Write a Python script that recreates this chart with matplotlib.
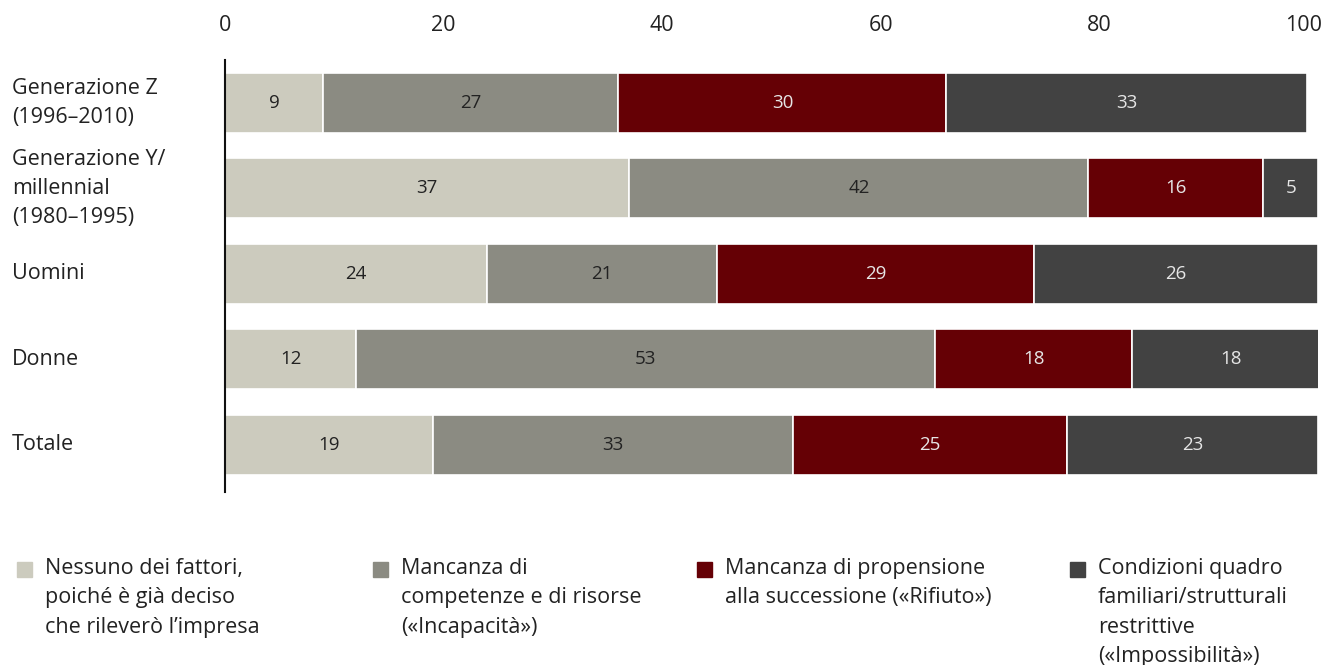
import matplotlib.pyplot as plt
from matplotlib.transforms import blended_transform_factory, ScaledTranslation
from matplotlib.patches import Rectangle

plt.rcParams['font.family'] = ['Open Sans', 'DejaVu Sans']

groups = ['Generazione Z\n(1996–2010)', 'Generazione Y/\nmillennial\n(1980–1995)',
          'Uomini', 'Donne', 'Totale']
nessuno = [9, 37, 24, 12, 19]
incapacita = [27, 42, 21, 53, 33]
rifiuto = [30, 16, 29, 18, 25]
impossibilita = [33, 5, 26, 18, 23]

series = [nessuno, incapacita, rifiuto, impossibilita]
colors = ['#cccbbe', '#8b8b82', '#650005', '#424242']
text_colors = ['#222222', '#222222', '#e6e6e6', '#e6e6e6']
legend_labels = [
    'Nessuno dei fattori,\npoiché è già deciso\nche rileverò l’impresa',
    'Mancanza di\ncompetenze e di risorse\n(«Incapacità»)',
    'Mancanza di propensione\nalla successione («Rifiuto»)',
    'Condizioni quadro\nfamiliari/strutturali\nrestrittive\n(«Impossibilità»)',
]

W, H = 1324, 665
fig = plt.figure(figsize=(W / 100, H / 100), dpi=100)
ax = fig.add_axes([225 / W, 1 - 492 / H, (1318 - 225) / W, (492 - 60) / H])

ypos = list(range(len(groups)))
left = [0] * len(groups)
for vals, col, tcol in zip(series, colors, text_colors):
    bars = ax.barh(ypos, vals, left=left, height=0.70, color=col,
                   edgecolor='white', linewidth=1.2)
    for b, v in zip(bars, vals):
        ax.text(b.get_x() + b.get_width() / 2, b.get_y() + b.get_height() / 2,
                str(v), ha='center', va='center', fontsize=13.5, color=tcol)
    left = [l + v for l, v in zip(left, vals)]

ax.set_xlim(0, 100)
ax.set_ylim(4.55, -0.5)
ax.xaxis.tick_top()
ax.set_xticks([0, 20, 40, 60, 80, 100])
ax.tick_params(axis='x', length=0, pad=17, labelsize=15.5, labelcolor='#222222')
# keep the last tick label inside the figure
last = ax.get_xticklabels()[-1]
last.set_horizontalalignment('right')
last.set_transform(last.get_transform() + ScaledTranslation(4 / 100, 0, fig.dpi_scale_trans))
ax.set_yticks([])
for s in ['top', 'right', 'bottom']:
    ax.spines[s].set_visible(False)
ax.spines['left'].set_linewidth(1.5)
ax.spines['left'].set_color('#111111')

# category labels, left-aligned at the figure edge
trans = blended_transform_factory(fig.transFigure, ax.transData)
for y, g in zip(ypos, groups):
    ax.text(12 / W, y, g, transform=trans, ha='left', va='center',
            fontsize=15.5, color='#222222', linespacing=1.5)

# legend along the bottom
legend_x = [17, 373, 697, 1070]
for x, col, lab in zip(legend_x, colors, legend_labels):
    fig.patches.append(Rectangle((x / W, 1 - 577 / H), 15 / W, 15 / H,
                                 transform=fig.transFigure, color=col))
    fig.text((x + 28) / W, 1 - 558 / H, lab, ha='left', va='top',
             fontsize=15.5, color='#222222', linespacing=1.52)

fig.savefig('out.png', dpi=100)
